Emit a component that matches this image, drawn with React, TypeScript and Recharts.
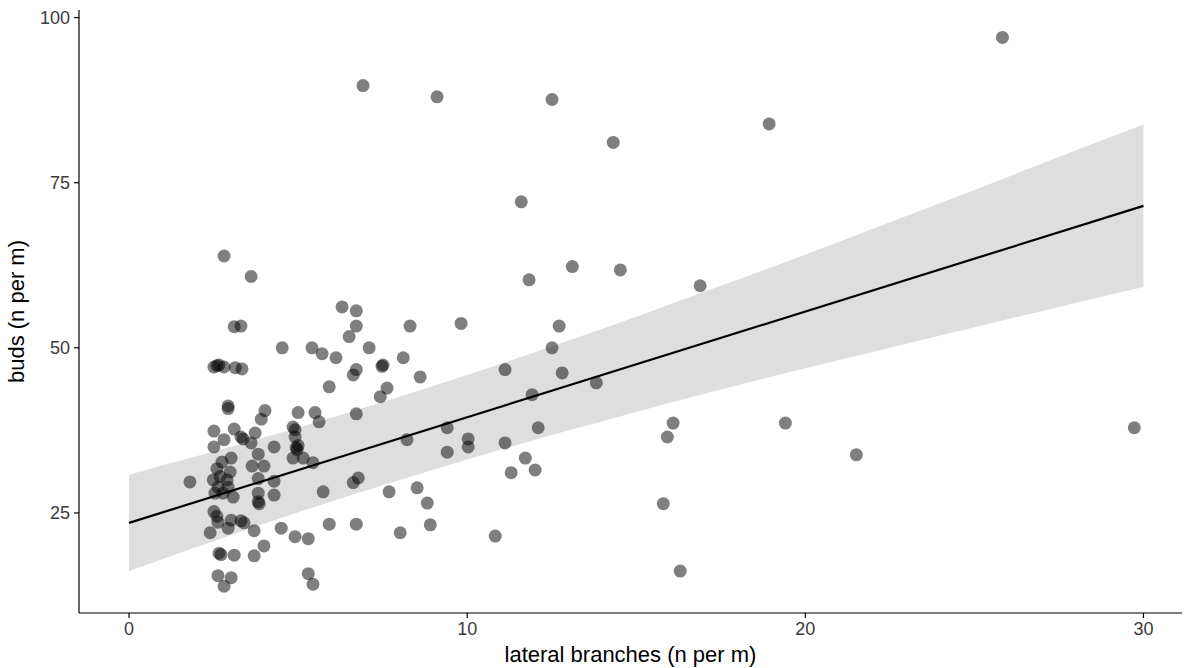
import { ComposedChart, Scatter, Line, Area, XAxis, YAxis } from 'recharts'

// lateral branches (n per m) / buds (n per m)
const branchesX = [
  6.92, 9.11, 12.51, 25.83, 18.93, 14.32, 11.6, 11.83, 13.11, 14.53, 16.89, 9.82, 12.72, 12.51, 11.12,
  12.81, 13.82, 11.92, 9.41, 10.03, 10.03, 9.41, 11.12, 12.1, 11.72, 11.3, 12.01, 16.09, 15.92, 19.41,
  21.51, 29.73, 15.8, 10.83, 16.3,
  6.3, 6.72, 6.72, 6.51, 8.31, 4.53, 5.41, 5.71, 6.12, 7.1, 7.51, 7.48, 8.11, 6.72, 6.63,
  8.61, 5.92, 7.63, 7.43, 5.0, 5.5, 5.62, 6.72, 8.22, 4.85, 4.91, 4.91, 4.94, 4.97, 5.0,
  4.85, 5.15, 5.44, 5.74, 6.63, 6.78, 7.69, 8.52, 8.82, 5.92, 6.72, 8.02, 8.91, 4.91, 5.3,
  5.3, 5.44, 4.5, 3.99, 3.7,
  2.81, 3.61, 3.11, 3.31, 2.51, 2.6, 2.66, 2.81, 3.14, 3.34, 2.93, 2.93, 4.02, 3.91, 2.51,
  3.11, 3.31, 3.37, 2.81, 3.73, 3.61, 2.51, 4.29, 3.82, 3.02, 2.75, 2.6, 2.99, 2.69, 2.49,
  2.9, 2.63, 2.93, 2.54, 2.78, 3.08, 1.8, 3.64, 3.99, 3.82, 4.29, 3.82, 4.29, 3.82, 3.85,
  2.51, 2.6, 2.63, 3.02, 2.93, 3.31, 3.4, 2.4, 2.66, 2.72, 3.11, 3.7, 2.63, 3.02, 2.81,
]
const budsY = [
  89.7, 88.0, 87.6, 97.0, 83.9, 81.1, 72.1, 60.3, 62.3, 61.8, 59.4, 53.7, 53.3, 50.0, 46.7,
  46.2, 44.7, 42.9, 37.9, 36.2, 35.0, 34.2, 35.6, 37.9, 33.3, 31.1, 31.5, 38.6, 36.5, 38.6,
  33.8, 37.9, 26.4, 21.5, 16.2,
  56.2, 55.6, 53.3, 51.7, 53.3, 50.0, 50.0, 49.1, 48.5, 50.0, 47.4, 47.2, 48.5, 46.7, 45.9,
  45.6, 44.1, 43.9, 42.6, 40.2, 40.2, 38.8, 40.0, 36.1, 38.0, 37.6, 36.5, 34.9, 34.6, 35.2,
  33.3, 33.3, 32.6, 28.2, 29.6, 30.3, 28.2, 28.8, 26.5, 23.3, 23.3, 22.0, 23.2, 21.4, 21.1,
  15.8, 14.2, 22.7, 20.0, 22.3,
  63.9, 60.8, 53.2, 53.3, 47.1, 47.3, 47.4, 47.1, 47.0, 46.8, 41.2, 40.8, 40.5, 39.2, 37.4,
  37.7, 36.5, 36.2, 36.1, 37.1, 35.6, 35.0, 35.0, 33.9, 33.3, 32.7, 31.7, 31.2, 30.5, 30.0,
  30.0, 28.9, 28.9, 28.0, 28.0, 27.4, 29.7, 32.1, 32.1, 30.2, 29.8, 28.0, 27.7, 26.7, 26.4,
  25.2, 24.5, 23.6, 23.9, 22.7, 23.8, 23.5, 22.0, 18.9, 18.7, 18.6, 18.5, 15.5, 15.2, 13.9,
]

// linear fit and its confidence band
const fitX = [0, 30]
const fitY = [23.5, 71.5]
const bandX = [0, 2.5, 5, 7.5, 10, 12.5, 15, 17.5, 20, 22.5, 25, 27.5, 30]
const bandLow = [16.2, 20.7, 25.1, 29.2, 33.1, 36.8, 40.3, 43.7, 46.9, 50.0, 53.1, 56.2, 59.2]
const bandHigh = [30.8, 34.3, 37.9, 41.8, 45.9, 50.2, 54.7, 59.4, 64.1, 69.0, 73.9, 78.9, 83.8]

const xTicks = [0, 10, 20, 30]
const yTicks = [25, 50, 75, 100]

const points = branchesX.map((x, i) => ({ x, y: budsY[i] }))
const fit = fitX.map((x, i) => ({ x, fit: fitY[i] }))
const band = bandX.map((x, i) => ({ x, band: [bandLow[i], bandHigh[i]] }))

const FONT = '"Liberation Sans", Arial, Helvetica, sans-serif'
const tickStyle = { fill: '#3a3a3a', fontSize: 18, fontFamily: FONT }
const titleStyle = { fill: '#000', fontSize: 22, fontFamily: FONT }

const Dot = (props: any) => (
  <circle cx={props.cx} cy={props.cy} r={6.5} fill="#000" fillOpacity={0.5} />
)

export default function App() {
  return (
    <div style={{ position: 'absolute', left: 0, top: 0, background: '#fff' }}>
      <ComposedChart width={1196} height={668} margin={{ top: 10, right: 14, bottom: 0, left: 0 }}>
        <XAxis
          type="number"
          dataKey="x"
          domain={[-1.48, 31.14]}
          ticks={xTicks}
          height={55}
          tickSize={5}
          tickMargin={4}
          stroke="#000"
          strokeWidth={1.2}
          tick={tickStyle}
          tickLine={{ stroke: '#000' }}
          allowDataOverflow
          label={{ value: 'lateral branches (n per m)', position: 'insideBottom', offset: 6, style: titleStyle }}
        />
        <YAxis
          type="number"
          domain={[9.85, 101.15]}
          ticks={yTicks}
          width={79}
          tickSize={5}
          tickMargin={4}
          stroke="#000"
          strokeWidth={1.2}
          tick={tickStyle}
          tickLine={{ stroke: '#000' }}
          allowDataOverflow
          label={{ value: 'buds (n per m)', angle: -90, position: 'insideLeft', offset: 16, style: { ...titleStyle, textAnchor: 'middle' } }}
        />
        <Area
          data={band}
          dataKey="band"
          type="monotone"
          stroke="none"
          fill="#dedede"
          fillOpacity={1}
          isAnimationActive={false}
        />
        <Scatter data={points} dataKey="y" shape={Dot} isAnimationActive={false} />
        <Line
          data={fit}
          dataKey="fit"
          stroke="#000"
          strokeWidth={2.2}
          dot={false}
          activeDot={false}
          isAnimationActive={false}
        />
      </ComposedChart>
    </div>
  )
}
